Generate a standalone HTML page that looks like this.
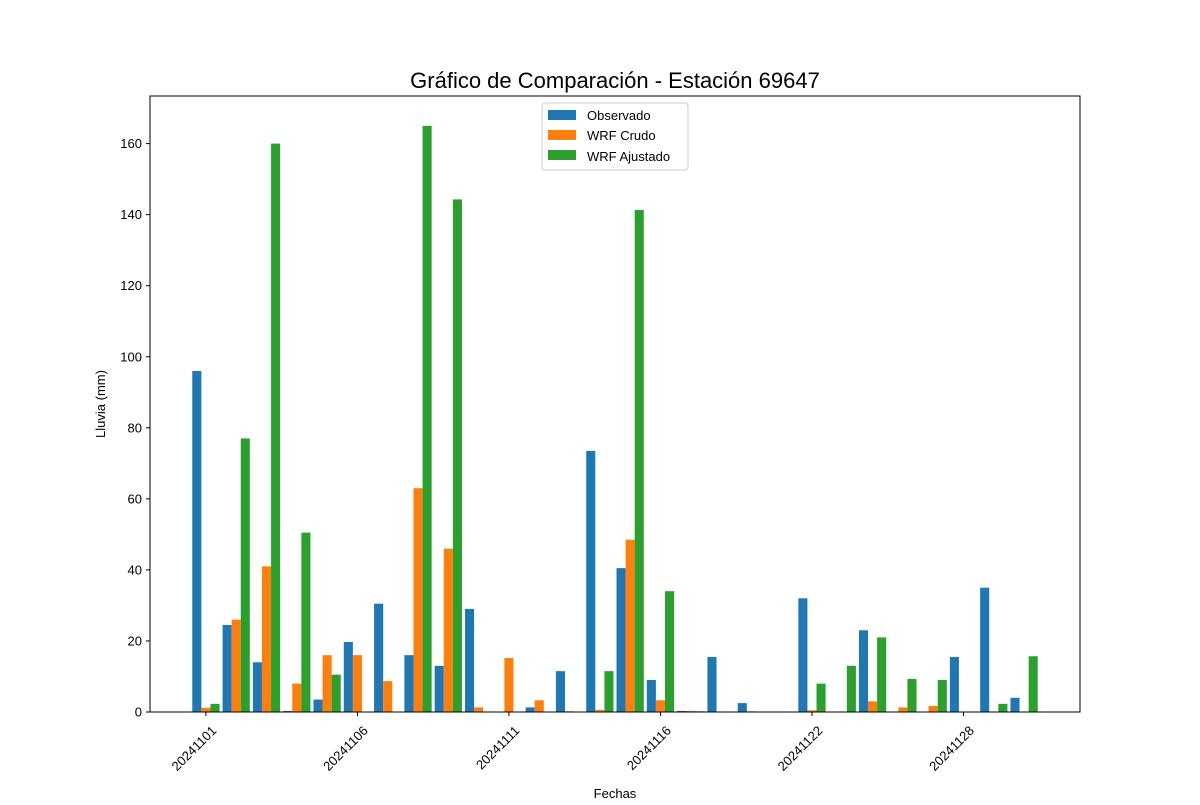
<!DOCTYPE html>
<html><head><meta charset="utf-8"><style>
body{margin:0;background:#fff}
svg{font-family:"Liberation Sans","DejaVu Sans",sans-serif}
</style></head><body>
<svg id="chart" width="1200" height="800">
<rect width="1200" height="800" fill="#fff"/>
<text x="615" y="88" font-size="22" text-anchor="middle">Gráfico de Comparación - Estación 69647</text>
<g id="bars"></g>
<g id="axes"></g>
<rect x="150" y="96" width="930" height="616" fill="none" stroke="#000" stroke-width="1"/>
<text x="615" y="798" font-size="13" text-anchor="middle">Fechas</text>
<text transform="translate(105,404) rotate(-90)" font-size="13" text-anchor="middle">Lluvia (mm)</text>
<g>
<rect x="542" y="103" width="146" height="67" rx="3" fill="#fff" stroke="#ccc"/>
<rect x="548" y="110" width="28" height="10" fill="#1f77b4"/>
<text x="587" y="120" font-size="13">Observado</text>
<rect x="548" y="130" width="28" height="10" fill="#ff7f0e"/>
<text x="587" y="140" font-size="13">WRF Crudo</text>
<rect x="548" y="150" width="28" height="10" fill="#2ca02c"/>
<text x="587" y="161" font-size="13">WRF Ajustado</text>
</g>
</svg>
<script>
const dates=["20241101","20241102","20241103","20241104","20241105","20241106","20241107","20241108","20241109","20241110","20241111","20241112","20241113","20241114","20241115","20241116","20241117","20241118","20241119","20241120","20241122","20241123","20241124","20241126","20241127","20241128","20241129","20241130"];
const observado=[96,24.5,14,0.3,3.5,19.7,30.5,16,13,29,0,1.3,11.5,73.5,40.5,9,0.3,15.5,2.5,0,32,0,23,0,0,15.5,35,4];
const wrfCrudo=[1.2,26,41,8,16,16,8.7,63,46,1.3,15.2,3.3,0.2,0.6,48.5,3.3,0.3,0,0.2,0,0.5,0,3,1.3,1.7,0,0,0];
const wrfAjustado=[2.3,77,160,50.5,10.5,0,0,165,144.3,0,0,0,0,11.5,141.3,34,0.2,0,0,0,8,13,21,9.3,9,0,2.3,15.7];
const yTicks=[0,20,40,60,80,100,120,140,160];
const xTickIdx=[0,5,10,15,20,25];
const NS="http://www.w3.org/2000/svg";
const L=150,R=1080,T=96,B=712;
const n=dates.length;
const xmin=-0.45-0.05*(n-1+0.9), xmax=n-1+0.45+0.05*(n-1+0.9);
const ymax=173.4;
const x=v=>L+(v-xmin)/(xmax-xmin)*(R-L);
const y=v=>B-v/ymax*(B-T);
const bars=document.getElementById('bars'), axes=document.getElementById('axes');
const series=[[observado,"#1f77b4",-0.3,"observado"],[wrfCrudo,"#ff7f0e",0,"wrf-crudo"],[wrfAjustado,"#2ca02c",0.3,"wrf-ajustado"]];
series.forEach(([vals,col,off,nm])=>{
 vals.forEach((v,i)=>{
  const r=document.createElementNS(NS,'rect');
  const x0=x(i+off-0.15),x1=x(i+off+0.15);
  r.setAttribute('x',x0);r.setAttribute('width',x1-x0);
  r.setAttribute('y',y(v));r.setAttribute('height',B-y(v));
  r.setAttribute('fill',col);
  
  
  bars.appendChild(r);
 });
});
yTicks.forEach(t=>{
 const l=document.createElementNS(NS,'line');
 l.setAttribute('x1',L-4);l.setAttribute('x2',L);l.setAttribute('y1',y(t));l.setAttribute('y2',y(t));l.setAttribute('stroke','#000');
 
 
 axes.appendChild(l);
 const tx=document.createElementNS(NS,'text');
 tx.setAttribute('x',L-8);tx.setAttribute('y',y(t)+4.5);tx.setAttribute('font-size','13');tx.setAttribute('text-anchor','end');
 tx.textContent=t;
 
 
 axes.appendChild(tx);
});
xTickIdx.forEach(i=>{
 const px=x(i);
 const l=document.createElementNS(NS,'line');
 l.setAttribute('x1',px);l.setAttribute('x2',px);l.setAttribute('y1',B);l.setAttribute('y2',B+4);l.setAttribute('stroke','#000');
 
 
 axes.appendChild(l);
 const tx=document.createElementNS(NS,'text');
 tx.setAttribute('transform','translate('+(px+4)+','+(B+12)+') rotate(-45)');
 tx.setAttribute('font-size','13');tx.setAttribute('text-anchor','end');tx.setAttribute('dy','0.8em');
 tx.textContent=dates[i];
 
 
 axes.appendChild(tx);
});
</script>
</body></html>
